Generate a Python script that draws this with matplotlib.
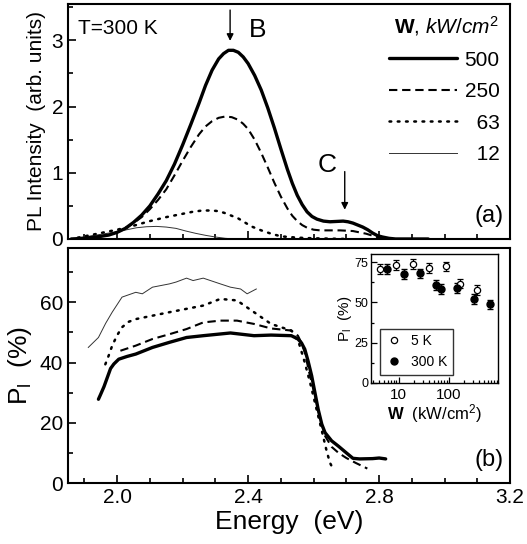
import numpy as np
import matplotlib
matplotlib.use("Agg")
import matplotlib.pyplot as plt
from matplotlib.lines import Line2D
from matplotlib.ticker import MultipleLocator, FormatStrFormatter

plt.rcParams['font.family'] = ['Liberation Sans', 'DejaVu Sans']
plt.rcParams['mathtext.fontset'] = 'custom'
plt.rcParams['mathtext.rm'] = 'Liberation Sans'
plt.rcParams['mathtext.it'] = 'Liberation Sans:italic'
plt.rcParams['mathtext.bf'] = 'Liberation Sans:bold'

# ---- (a) PL spectra, T=300 K ----
e500 = [1.86, 1.90, 1.95, 1.975, 2.00, 2.025, 2.05, 2.075, 2.10, 2.125, 2.15, 2.175,
        2.20, 2.225, 2.25, 2.27, 2.29, 2.31, 2.325, 2.34, 2.355, 2.37, 2.385, 2.40,
        2.42, 2.44, 2.46, 2.48, 2.50, 2.52, 2.535, 2.55, 2.565, 2.58, 2.595, 2.61,
        2.63, 2.65, 2.67, 2.69, 2.705, 2.72, 2.735, 2.75, 2.765, 2.78, 2.795, 2.81,
        2.83, 2.85, 2.95]
i500 = [0.0, 0.01, 0.04, 0.06, 0.10, 0.16, 0.25, 0.36, 0.50, 0.68, 0.88, 1.13,
        1.42, 1.73, 2.05, 2.32, 2.55, 2.72, 2.80, 2.85, 2.85, 2.82, 2.75, 2.65,
        2.47, 2.25, 1.98, 1.68, 1.36, 1.05, 0.84, 0.66, 0.52, 0.41, 0.34, 0.30,
        0.27, 0.26, 0.265, 0.27, 0.26, 0.24, 0.21, 0.18, 0.14, 0.09, 0.05, 0.03,
        0.01, 0.0, 0.0]
e250 = [1.95, 1.975, 2.00, 2.025, 2.05, 2.075, 2.10, 2.125, 2.15, 2.175, 2.20, 2.225,
        2.25, 2.27, 2.29, 2.31, 2.33, 2.35, 2.37, 2.385, 2.40, 2.42, 2.44, 2.46,
        2.48, 2.50, 2.52, 2.535, 2.55, 2.565, 2.58, 2.60, 2.62, 2.65, 2.68, 2.70,
        2.72, 2.74, 2.76, 2.78, 2.80, 2.83]
i250 = [0.04, 0.06, 0.10, 0.16, 0.24, 0.33, 0.45, 0.59, 0.75, 0.96, 1.18, 1.39,
        1.58, 1.70, 1.78, 1.83, 1.85, 1.84, 1.80, 1.74, 1.66, 1.50, 1.30, 1.08,
        0.85, 0.64, 0.46, 0.35, 0.27, 0.21, 0.17, 0.14, 0.13, 0.13, 0.13, 0.125,
        0.12, 0.10, 0.08, 0.05, 0.02, 0.0]
e63 = [1.88, 1.90, 1.95, 2.00, 2.05, 2.10, 2.15, 2.20, 2.23, 2.26, 2.29, 2.31, 2.33,
       2.35, 2.37, 2.39, 2.41, 2.44, 2.47, 2.50, 2.55, 2.60, 2.70]
i63 = [0.02, 0.04, 0.09, 0.14, 0.20, 0.27, 0.33, 0.38, 0.41, 0.43, 0.43, 0.42, 0.39,
       0.35, 0.31, 0.25, 0.19, 0.13, 0.08, 0.04, 0.02, 0.01, 0.0]
e12 = [1.88, 1.90, 1.95, 2.00, 2.03, 2.06, 2.09, 2.12, 2.15, 2.18, 2.21, 2.24, 2.27,
       2.30, 2.33, 2.36]
i12 = [0.02, 0.03, 0.07, 0.11, 0.14, 0.17, 0.185, 0.19, 0.18, 0.16, 0.12, 0.085,
       0.055, 0.03, 0.01, 0.0]

# ---- (b) linear polarization degree ----
pe500 = [1.943, 1.95, 1.96, 1.97, 1.98, 1.99, 2.005, 2.03, 2.057, 2.108, 2.16, 2.212,
         2.263, 2.346, 2.418, 2.47, 2.532, 2.552, 2.563, 2.573, 2.583, 2.594, 2.604,
         2.614, 2.625, 2.635, 2.655, 2.676, 2.70, 2.72, 2.74, 2.78, 2.80, 2.82]
p500 = [27.8, 29.5, 32.0, 35.0, 38.0, 39.5, 41.1, 42.0, 42.8, 45.0, 46.7, 48.3,
        48.9, 49.8, 48.9, 49.1, 48.9, 47.8, 46.5, 44.4, 40.5, 35.6, 30.0,
        24.4, 19.5, 16.7, 14.0, 12.2, 10.0, 8.2, 8.0, 8.1, 8.3, 8.0]
pe250 = [2.01, 2.057, 2.108, 2.16, 2.212, 2.263, 2.315, 2.366, 2.418, 2.47, 2.532,
         2.552, 2.563, 2.573, 2.588, 2.604, 2.62, 2.635, 2.655, 2.676, 2.70, 2.728, 2.764]
p250 = [43.9, 45.6, 47.8, 49.4, 51.1, 53.3, 53.9, 53.9, 52.8, 51.3, 50.6,
        48.9, 46.5, 43.3, 36.0, 28.9, 21.5, 15.6, 12.0, 10.0, 8.3, 6.7, 4.8]
pe63 = [1.964, 1.975, 1.985, 2.00, 2.015, 2.035, 2.057, 2.16, 2.263, 2.315, 2.366,
        2.418, 2.47, 2.532, 2.555, 2.573, 2.59, 2.604, 2.624, 2.64, 2.65, 2.655]
p63 = [39.4, 42.5, 45.6, 49.0, 51.7, 53.5, 54.4, 56.7, 58.9, 61.1, 60.6,
       56.7, 52.8, 50.6, 46.5, 40.0, 33.0, 26.7, 17.8, 10.5, 6.7, 5.6]
pe12 = [1.912, 1.943, 1.965, 1.985, 2.015, 2.057, 2.077, 2.108, 2.16, 2.18, 2.212,
        2.232, 2.263, 2.315, 2.346, 2.377, 2.397, 2.425]
p12 = [45.0, 48.3, 53.0, 56.7, 61.7, 63.3, 62.8, 65.0, 66.1, 66.7, 68.0,
       67.2, 68.0, 66.1, 65.0, 64.4, 62.8, 64.4]

# ---- inset: P_l vs excitation density ----
w_5k = [4.2, 9.0, 18.8, 40.6, 87, 166, 356]
pl_5k = [70.6, 73.1, 73.7, 71.2, 72.3, 61.7, 57.5]
w_300k = [5.8, 12.6, 26, 55, 68, 142, 309, 645]
pl_300k = [70.6, 67.5, 68.0, 61.0, 58.5, 59.0, 52.3, 48.7]
err = 3.0

labels = ['500', '250', '63', '12']

fig = plt.figure(figsize=(5.27, 5.44), dpi=100)
ax1 = fig.add_axes([0.129, 0.5607, 0.839, 0.432])
ax2 = fig.add_axes([0.129, 0.1121, 0.839, 0.432])
ins = fig.add_axes([0.704, 0.296, 0.241, 0.237])

st_solid = dict(color='black', lw=2.4, solid_capstyle='round', solid_joinstyle='round')
st_dash = dict(color='black', lw=1.5, dashes=(4.0, 2.3))
st_dot = dict(color='black', lw=1.8, dashes=(0.7, 2.6), dash_capstyle='round')
st_thin = dict(color='#333333', lw=0.7)

ax1.plot(e12, i12, **st_thin)
ax1.plot(e63, i63, **st_dot)
ax1.plot(e250, i250, **st_dash)
ax1.plot(e500, i500, **st_solid)

ax2.plot(pe12, p12, **st_thin)
ax2.plot(pe63, p63, **st_dot)
ax2.plot(pe250, p250, **st_dash)
ax2.plot(pe500, p500, **st_solid)

for ax in (ax1, ax2):
    ax.set_xlim(1.85, 3.2)
    ax.xaxis.set_major_locator(MultipleLocator(0.4))
    ax.xaxis.set_minor_locator(MultipleLocator(0.1))
    ax.tick_params(which='both', direction='in', width=1.2, labelsize=15)
    ax.tick_params(which='major', length=6)
    ax.tick_params(which='minor', length=3.5)
    for s in ax.spines.values():
        s.set_linewidth(1.5)

ax1.set_ylim(0, 3.55)
ax1.yaxis.set_major_locator(MultipleLocator(1))
ax1.yaxis.set_minor_locator(MultipleLocator(0.5))
ax1.tick_params(labelbottom=False)
ax1.set_ylabel('PL Intensity  (arb. units)', fontsize=15, labelpad=4)

ax2.set_ylim(0, 78)
ax2.yaxis.set_major_locator(MultipleLocator(20))
ax2.yaxis.set_minor_locator(MultipleLocator(10))
ax2.xaxis.set_major_formatter(FormatStrFormatter('%.1f'))
ax2.set_xlabel('Energy  (eV)', fontsize=19, labelpad=2)
ax2.set_ylabel(r'P$_\mathregular{l}$  (%)', fontsize=19, labelpad=4)

# annotations in panel (a)
ax1.text(1.88, 3.18, 'T=300 K', fontsize=15, va='center')
ax1.annotate('', xy=(2.345, 2.95), xytext=(2.345, 3.5),
             arrowprops=dict(arrowstyle='-|>', color='black', lw=1, mutation_scale=10))
ax1.text(2.43, 3.15, 'B', fontsize=19, va='center', ha='center')
ax1.annotate('', xy=(2.695, 0.40), xytext=(2.695, 1.06),
             arrowprops=dict(arrowstyle='-|>', color='black', lw=1, mutation_scale=10))
ax1.text(2.64, 1.12, 'C', fontsize=19, va='center', ha='center')
ax1.text(0.985, 0.05, '(a)', transform=ax1.transAxes, fontsize=17, ha='right', va='bottom')
ax2.text(0.985, 0.05, '(b)', transform=ax2.transAxes, fontsize=17, ha='right', va='bottom')

# legend for panel (a)
fsp = '\u2007'
handles = [Line2D([], [], **st_solid), Line2D([], [], **st_dash),
           Line2D([], [], **st_dot), Line2D([], [], **st_thin)]
lab_txt = [l.rjust(3, fsp) for l in labels]
leg = ax1.legend(handles, lab_txt, loc='upper right', frameon=False, fontsize=15,
                 handlelength=3.3, handletextpad=0.35, labelspacing=0.6,
                 borderaxespad=0.1, title=r'$\mathbf{W}$, $\it{kW/cm^2}$',
                 title_fontsize=15, bbox_to_anchor=(1.0, 1.0))
leg._legend_box.align = 'right'

# inset
ins.errorbar(w_5k, pl_5k, yerr=err, fmt='o', mfc='white', mec='black', ms=4.5,
             mew=0.9, ecolor='black', elinewidth=0.9, capsize=2.5, label='5 K')
ins.errorbar(w_300k, pl_300k, yerr=err, fmt='o', mfc='black', mec='black', ms=5,
             ecolor='black', elinewidth=0.9, capsize=2.5, label='300 K')
ins.set_xscale('log')
ins.set_xlim(2.8, 950)
ins.xaxis.set_major_formatter(FormatStrFormatter('%d'))
ins.set_ylim(0, 80)
ins.yaxis.set_major_locator(MultipleLocator(25))
ins.yaxis.set_minor_locator(MultipleLocator(12.5))
ins.tick_params(which='both', direction='in', labelsize=11, width=0.9)
ins.tick_params(which='major', length=4)
ins.tick_params(which='minor', length=2.5)
ins.tick_params(axis='y', labelsize=9, pad=2)
for s in ins.spines.values():
    s.set_linewidth(1.0)
ins.set_xlabel(r'$\mathbf{W}$  (kW/cm$^2$)', fontsize=12, labelpad=0)
ins.set_ylabel(r'P$_\mathregular{l}$  (%)', fontsize=11, labelpad=0)
h, l = ins.get_legend_handles_labels()
ins.legend([hh[0] for hh in h], l, loc='lower left', fontsize=10, frameon=True,
           fancybox=False, edgecolor='black', handlelength=1.2, handletextpad=0.6,
           borderaxespad=0.4, bbox_to_anchor=(0.03, 0.02)).get_frame().set_linewidth(1.0)

fig.savefig('out.png', dpi=100)
